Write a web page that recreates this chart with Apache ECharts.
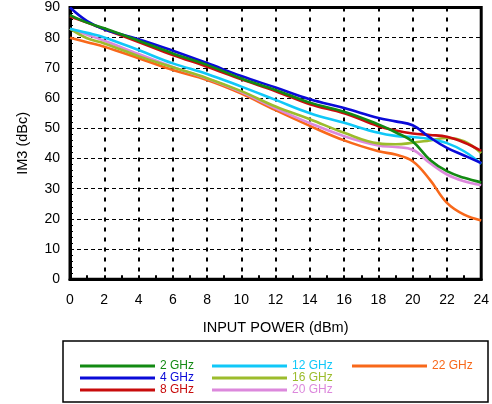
<!DOCTYPE html>
<html><head><meta charset="utf-8">
<script src="https://cdn.jsdelivr.net/npm/echarts@6/dist/echarts.min.js"></script>
<style>html,body{margin:0;padding:0;background:#fff}#c{width:492px;height:404px}</style>
</head><body><div id="c"></div>
<script>
const xPower = [0,1,2,4,6,8,10,12,14,16,18,19,20,21,22,23,24];
const ghz2  = [87.5,85,83.1,79,74.8,71,66.5,62.7,58.5,55.5,51.3,48.7,45.6,39.6,35.8,33.6,32.1];
const ghz4  = [90,85.5,82.8,79.5,75.7,71.6,67.3,63.5,59.6,56.7,53.4,52.3,51,47,43.5,41,38.5];
const ghz8  = [87,85,82.8,78.6,74.3,70.4,66.2,62.3,58,55,50.7,49.3,48.3,47.8,47.2,45.3,42.5];
const ghz12 = [83,81.6,80.1,75.9,71.5,68,63.8,59.4,55,51.8,48.5,47.5,47.1,46.5,45.1,42.4,38.3];
const ghz16 = [83,79.8,78.1,73.9,70.2,66.6,62.3,57.2,53,48.5,45,44.7,45.2,46,46.8,45.7,41.8];
const ghz20 = [83,81,79,74.6,70.3,66.5,62,56.6,51.7,47.4,44.3,43.8,42.9,38.5,34.7,32.5,31.2];
const ghz22 = [80,78.5,77,73.2,69.3,66,61.5,56,50.8,46,42.4,41.3,39.1,33,25.3,21.4,19.5];
const seriesNames = ['2 GHz','4 GHz','8 GHz','12 GHz','16 GHz','20 GHz','22 GHz'];
const seriesValues = [ghz2,ghz4,ghz8,ghz12,ghz16,ghz20,ghz22];
const colors = ['#138a13','#0a0ad8','#c80c0c','#10c8f8','#9cbc2c','#dc88dc','#f8681a'];

const FONT = 'Liberation Sans, Arial, sans-serif';
const chart = echarts.init(document.getElementById('c'));
const series = seriesNames.map((n,i)=>({
  name:n, type:'line', smooth:0.4, showSymbol:false, symbol:'none',
  lineStyle:{width:2.6,color:colors[i]}, itemStyle:{color:colors[i]},
  data: xPower.map((x,j)=>[x, seriesValues[i][j]]), z:10-i
}));
function legendFor(names, left){
  return {
    left:left, top:355, orient:'vertical', itemWidth:75, itemHeight:3, itemGap:0,
    icon:'rect', selectedMode:false,
    textStyle:{fontFamily:FONT,fontSize:12,lineHeight:12},
    data:names.map(n=>({name:n,textStyle:{color:colors[seriesNames.indexOf(n)]}}))
  };
}
chart.setOption({
  animation:false,
  backgroundColor:'#fff',
  grid:{left:70,top:7.5,right:9,bottom:124.7,show:true,borderColor:'#000',borderWidth:3},
  legend:[legendFor(['2 GHz','4 GHz','8 GHz'],75), legendFor(['12 GHz','16 GHz','20 GHz'],207), legendFor(['22 GHz'],347)],
  graphic:[{type:'rect',shape:{x:63,y:341,width:425,height:61},style:{fill:'none',stroke:'#000',lineWidth:1.5}}],
  xAxis:{type:'value',min:0,max:24,interval:2,
    name:'INPUT POWER (dBm)',nameLocation:'middle',nameGap:41,
    nameTextStyle:{fontFamily:FONT,fontSize:14.5,color:'#000'},
    axisLine:{lineStyle:{color:'#000',width:3}},
    axisTick:{inside:true,length:4,lineStyle:{color:'#000',width:2}},
    minorTick:{show:true,splitNumber:2,length:4,lineStyle:{color:'#000',width:2}},
    axisLabel:{fontFamily:FONT,fontSize:14,color:'#000',margin:14},
    splitLine:{show:true,lineStyle:{color:'#000',type:[4,6],width:2}}},
  yAxis:{type:'value',min:0,max:90,interval:10,
    name:'IM3 (dBc)',nameLocation:'middle',nameGap:40,
    nameTextStyle:{fontFamily:FONT,fontSize:14.5,color:'#000'},
    axisLine:{lineStyle:{color:'#000',width:3}},
    axisTick:{inside:true,length:4,lineStyle:{color:'#000',width:1}},
    minorTick:{show:true,splitNumber:5,length:3,lineStyle:{color:'#000',width:1}},
    axisLabel:{fontFamily:FONT,fontSize:14,color:'#000',margin:10},
    splitLine:{show:true,lineStyle:{color:'#000',type:[4,3],width:1}}},
  series:series
});
</script></body></html>
